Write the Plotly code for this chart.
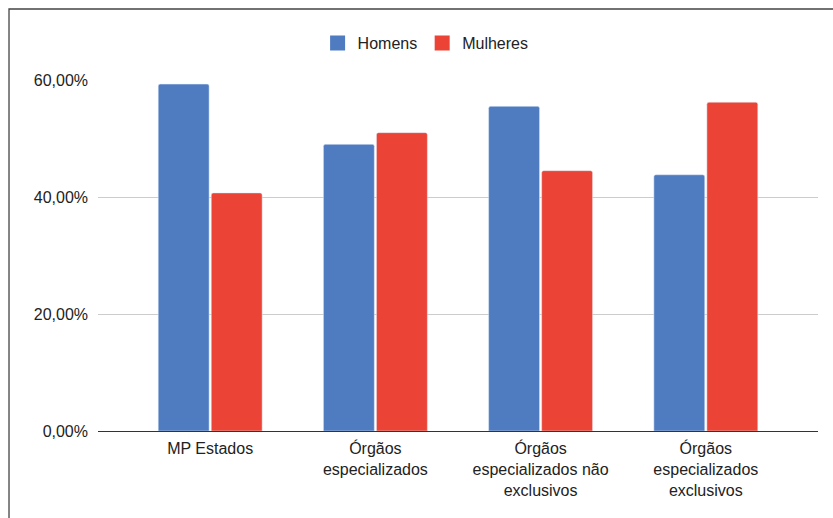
import plotly.graph_objects as go

categories = ["MP Estados", "Órgãos<br>especializados", "Órgãos<br>especializados não<br>exclusivos", "Órgãos<br>especializados<br>exclusivos"]
homens = [0.593, 0.490, 0.555, 0.438]
mulheres = [0.407, 0.510, 0.445, 0.562]
y_ticks = [0, 0.2, 0.4, 0.6]
series_names = ["Homens", "Mulheres"]
colors = ["#4F7CC1", "#EB4335"]

FONT = "Liberation Sans, Arial, sans-serif"

fig = go.Figure()
for name, vals, col in zip(series_names, [homens, mulheres], colors):
    fig.add_trace(go.Bar(x=list(range(4)), y=vals, name=name, showlegend=False,
                         marker=dict(color=col, cornerradius=2)))
for name, col in zip(series_names, colors):
    fig.add_trace(go.Scatter(x=[None], y=[None], mode="markers", name=name,
                             marker=dict(symbol="square", size=15, color=col)))

fig.update_layout(
    width=833, height=518,
    margin=dict(l=98, r=15, t=80, b=87),
    paper_bgcolor="white", plot_bgcolor="white",
    barmode="group", bargap=0.358, bargroupgap=0.04,
    font=dict(family=FONT, size=16, color="#222222"),
    legend=dict(orientation="h", x=0.455, xanchor="center", y=1.105, yanchor="middle",
                font=dict(size=16), itemwidth=30, tracegroupgap=0),
    xaxis=dict(range=[-0.679, 3.679], tickmode="array", tickvals=list(range(4)),
               ticktext=categories, showgrid=False, zeroline=False,
               showline=False, ticks="", ticklabelstandoff=6, tickfont=dict(size=16)),
    yaxis=dict(range=[0, 0.6], tickmode="array", tickvals=y_ticks, tickformat=".2%",
               showgrid=True, gridcolor="#cccccc", gridwidth=1,
               zeroline=True, zerolinecolor="#333333", zerolinewidth=1.3,
               showline=False, ticks="", ticklabelstandoff=9, tickfont=dict(size=16)),
    separators=",.",
    shapes=[dict(type="rect", xref="paper", yref="paper",
                 x0=-0.1236, x1=1.05, y0=-0.4, y1=1.2023,
                 line=dict(color="#444444", width=1.3), fillcolor="rgba(0,0,0,0)", layer="above")],
)

fig.write_html("out.html")
